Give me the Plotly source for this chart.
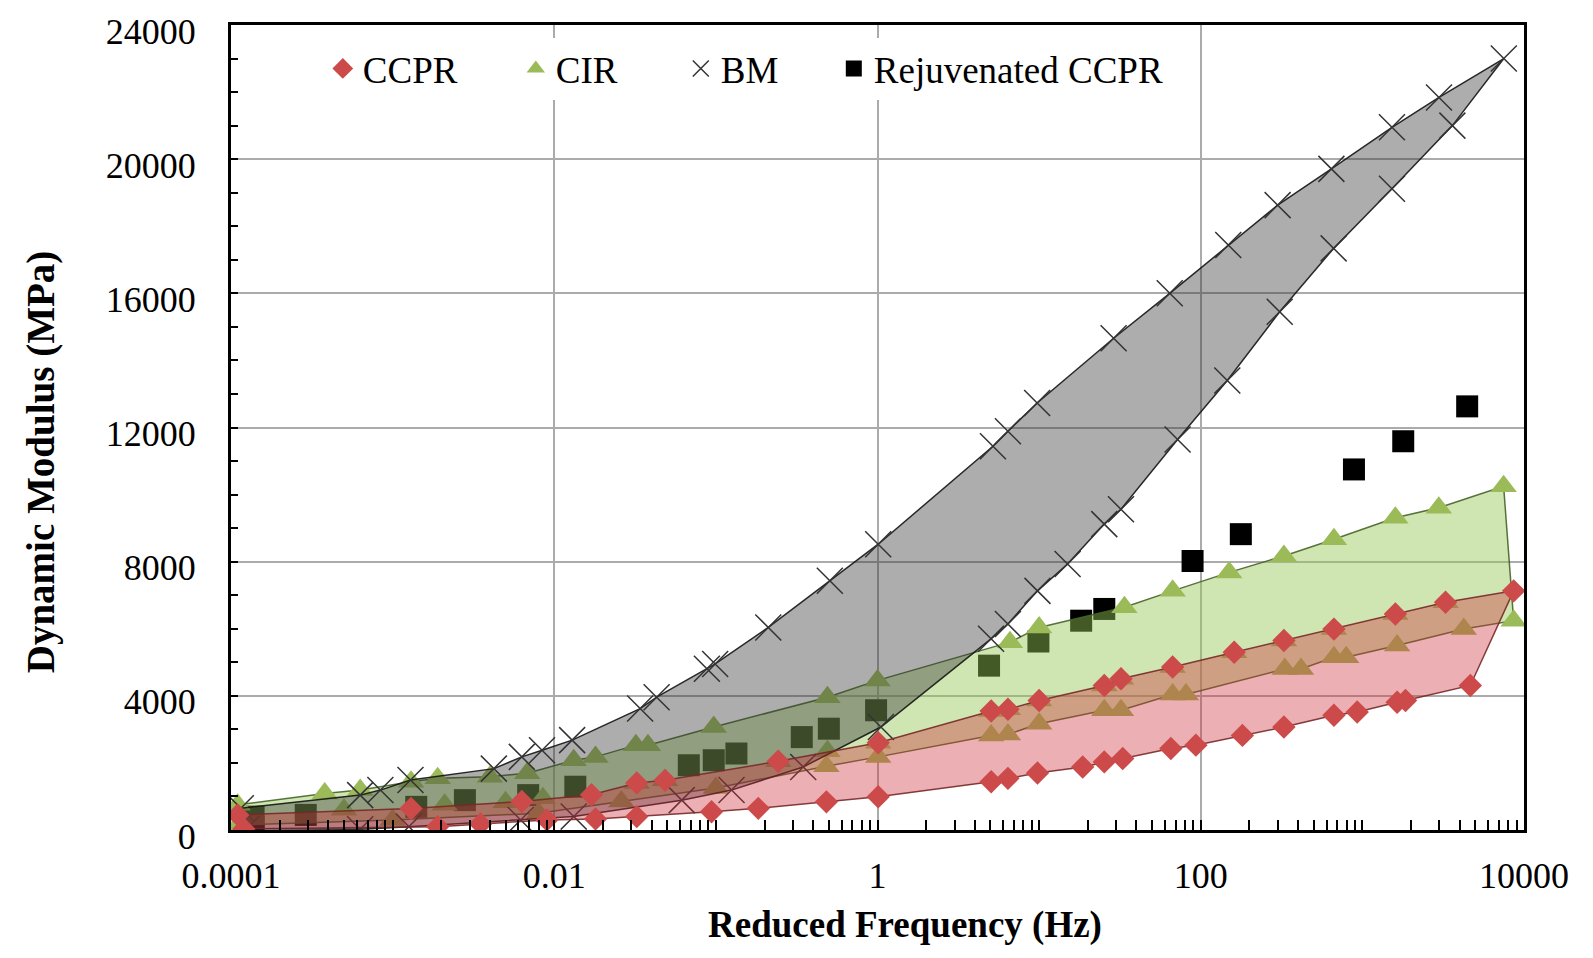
import plotly.graph_objects as go

# ---------------- data ----------------
# BM (gray band)
bm_upper_f = [0.000115, 0.00063, 0.00084, 0.00129, 0.00423, 0.0063, 0.0084, 0.0129, 0.034, 0.043,
              0.088, 0.099, 0.211, 0.507, 1.01, 5.18, 6.41, 9.72, 28.9, 64.3, 148, 299, 643, 1524, 2979, 7500]
bm_upper_E = [650, 1040, 1190, 1490, 1830, 2180, 2380, 2680, 3620, 3960,
              4810, 4950, 6040, 7430, 8520, 11440, 11890, 12730, 14660, 16000, 17440, 18630, 19710, 20950, 21840, 23000]
bm_lower_f = [0.000125, 0.00063, 0.00126, 0.0062, 0.0132, 0.0615, 0.125, 0.347, 1.05, 5.04, 6.41, 9.77,
              15.0, 25.3, 32.1, 71.9, 146, 308, 664, 1524, 3606]
bm_lower_E = [40, 20, 100, 300, 400, 890, 1190, 1880, 3070, 5700, 6140, 7130,
              7930, 9120, 9560, 11640, 13400, 15450, 17340, 19120, 21000]

# CIR (green band)
cir_upper_f = [0.00011, 0.00038, 0.00063, 0.0013, 0.0019, 0.004, 0.0068, 0.0132, 0.018, 0.032, 0.038,
               0.097, 0.49, 1.0, 6.6, 10, 33.7, 67, 150, 327, 667, 1600, 2970, 7480]
cir_upper_E = [750, 1090, 1190, 1440, 1540, 1590, 1690, 2080, 2180, 2530, 2530,
               3070, 3960, 4460, 5600, 6040, 6640, 7130, 7680, 8170, 8670, 9310, 9610, 10250]
cir_mid_f = [0.0005, 0.0021, 0.005, 0.0085, 0.0324, 0.0485, 0.243, 0.49, 1.01, 5.05, 6.41,
             10, 25.3, 32.1, 67, 161, 327, 667, 1600, 3270]
cir_mid_E = [600, 750, 830, 950, 1400, 1480, 2050, 2350, 2600, 3550, 3600,
             3860, 4310, 4510, 4860, 5300, 5650, 5990, 6440, 6790]
cir_lower_f = [0.00011, 0.001, 0.008, 0.026, 0.1, 0.483, 1.01, 5.05, 6.41, 10, 25.3, 32.1,
               67, 81, 331, 417, 667, 794, 1640, 4240, 8630]
cir_lower_E = [150, 300, 500, 850, 1250, 1900, 2180, 2820, 2850, 3170, 3570, 3570,
               4040, 4040, 4800, 4800, 5150, 5150, 5500, 5990, 6240]

# CCPR (red band)
ccpr_upper_f = [0.00011, 0.0013, 0.0063, 0.017, 0.0324, 0.0485, 0.243, 1.01, 5.05, 6.41, 10,
                25.3, 32.1, 67, 161, 327, 667, 1600, 3270, 8630]
ccpr_upper_E = [450, 640, 850, 1050, 1400, 1480, 2050, 2600, 3550, 3600, 3860,
                4310, 4510, 4860, 5300, 5650, 5990, 6440, 6790, 7130]
ccpr_lower_f = [0.00012, 0.0019, 0.0035, 0.009, 0.018, 0.0324, 0.094, 0.183, 0.483, 1.01, 5.05, 6.41,
                9.77, 18.6, 25.3, 32.9, 65.3, 93.3, 181, 327, 667, 929, 1641, 1849, 4656]
ccpr_lower_E = [30, 100, 180, 300, 330, 400, 545, 645, 840, 990, 1440, 1540,
                1700, 1880, 2030, 2130, 2430, 2530, 2820, 3070, 3420, 3520, 3810, 3860, 4310]

# Rejuvenated CCPR (points only)
rej_f = [0.000138, 0.000138, 0.00029, 0.0014, 0.0028, 0.0069, 0.0135, 0.068, 0.097, 0.134, 0.34,
         0.50, 0.98, 4.9, 9.9, 18.2, 25.3, 89, 177, 887, 1790, 4450]
rej_E = [100, 400, 450, 690, 890, 1040, 1290, 1930, 2080, 2280, 2770,
         3020, 3570, 4900, 5620, 6240, 6590, 8020, 8820, 10750, 11590, 12630]

x_tickvals = [0.0001, 0.01, 1, 100, 10000]
x_ticktext = ["0.0001", "0.01", "1", "100", "10000"]
y_tickvals = [0, 4000, 8000, 12000, 16000, 20000, 24000]
y_ticktext = ["0", "4000", "8000", "12000", "16000", "20000", "24000"]

FONT = "Liberation Serif, Times New Roman, serif"


def band(uf, ue, lf, le):
    return list(uf) + list(lf)[::-1], list(ue) + list(le)[::-1]


fig = go.Figure()

# Rejuvenated squares (under the translucent bands)
fig.add_trace(go.Scatter(
    x=rej_f, y=rej_E, mode="markers", name="Rejuvenated CCPR",
    marker=dict(symbol="square", size=22, color="black"),
    legendrank=4, legendwidth=320))

# CIR band
px, py = band(cir_upper_f, cir_upper_E, cir_lower_f, cir_lower_E)
fig.add_trace(go.Scatter(x=px, y=py, mode="lines", fill="toself",
                         fillcolor="rgba(150,200,85,0.45)",
                         line=dict(color="rgba(70,100,40,0.9)", width=1.5),
                         showlegend=False, hoverinfo="skip"))
fig.add_trace(go.Scatter(
    x=cir_upper_f + cir_mid_f + cir_lower_f, y=cir_upper_E + cir_mid_E + cir_lower_E,
    mode="markers", name="CIR",
    marker=dict(symbol="triangle-up", size=23, color="#9bbb59"),
    legendrank=2, legendwidth=120))

# BM band
px, py = band(bm_upper_f, bm_upper_E, bm_lower_f, bm_lower_E)
fig.add_trace(go.Scatter(x=px, y=py, mode="lines", fill="toself",
                         fillcolor="rgba(50,50,50,0.40)",
                         line=dict(color="rgba(20,20,20,0.9)", width=1.5),
                         showlegend=False, hoverinfo="skip"))
fig.add_trace(go.Scatter(
    x=bm_upper_f + bm_lower_f, y=bm_upper_E + bm_lower_E,
    mode="markers", name="BM",
    marker=dict(symbol="x-thin", size=26, color="#333333",
                line=dict(color="#333333", width=1.5)),
    legendrank=3, legendwidth=108))

# CCPR band
px, py = band(ccpr_upper_f, ccpr_upper_E, ccpr_lower_f, ccpr_lower_E)
fig.add_trace(go.Scatter(x=px, y=py, mode="lines", fill="toself",
                         fillcolor="rgba(205,45,55,0.38)",
                         line=dict(color="rgba(120,40,40,0.9)", width=1.5),
                         showlegend=False, hoverinfo="skip"))
fig.add_trace(go.Scatter(
    x=ccpr_upper_f + ccpr_lower_f, y=ccpr_upper_E + ccpr_lower_E,
    mode="markers", name="CCPR",
    marker=dict(symbol="diamond", size=18, color="#cc4a4a"),
    legendrank=1, legendwidth=148))

minor_x = [k * 10.0 ** d for d in range(-4, 4) for k in range(1, 10)] + [10000]

# the page body has an 8 px margin: size the figure so that the plot area
# lands on the same page pixels as in the reference
fig.update_layout(
    width=1577, height=942,
    margin=dict(l=223, r=61, t=17, b=120, autoexpand=False),
    paper_bgcolor="white", plot_bgcolor="white",
    font=dict(family=FONT, size=36, color="black"),
    showlegend=True,
    legend=dict(orientation="h", x=0.071, xanchor="left", y=0.984, yanchor="top",
                bgcolor="white", borderwidth=0,
                font=dict(family=FONT, size=37, color="black")),
    xaxis=dict(type="log", range=[-4, 4], tickmode="array",
               tickvals=x_tickvals, ticktext=x_ticktext, automargin=False,
               showgrid=True, gridcolor="#ababab", gridwidth=1.5,
               showline=True, linecolor="black", linewidth=3, mirror=True,
               ticks="inside", ticklen=10, tickcolor="black", tickwidth=1.5,
               ticklabelstandoff=12, ticklabeloverflow="allow",
               tickfont=dict(family=FONT, size=36, color="black"),
               minor=dict(tickmode="array", tickvals=minor_x, ticks="inside",
                          ticklen=10, tickcolor="black", tickwidth=1.5, showgrid=False),
               zeroline=False),
    yaxis=dict(range=[0, 24000], tickmode="array", tickvals=y_tickvals, ticktext=y_ticktext,
               automargin=False,
               showgrid=True, gridcolor="#ababab", gridwidth=1.5,
               showline=True, linecolor="black", linewidth=3, mirror=True,
               ticks="inside", ticklen=7, tickcolor="black", tickwidth=1.5,
               ticklabelstandoff=25, ticklabelshift=6, ticklabeloverflow="allow",
               tickfont=dict(family=FONT, size=36, color="black"),
               minor=dict(dtick=1000, ticks="inside", ticklen=7, tickcolor="black",
                          tickwidth=1.5, showgrid=False),
               zeroline=False),
    annotations=[
        dict(text="<b>Reduced Frequency (Hz)</b>", xref="paper", yref="paper",
             x=0.521, y=-0.118, xanchor="center", yanchor="middle", showarrow=False,
             font=dict(family=FONT, size=37, color="black")),
        dict(text="<b>Dynamic Modulus (MPa)</b>", xref="paper", yref="paper",
             x=-0.147, y=0.458, xanchor="center", yanchor="middle", showarrow=False,
             textangle=-90, font=dict(family=FONT, size=39, color="black")),
    ],
)

fig.write_html("out.html")
